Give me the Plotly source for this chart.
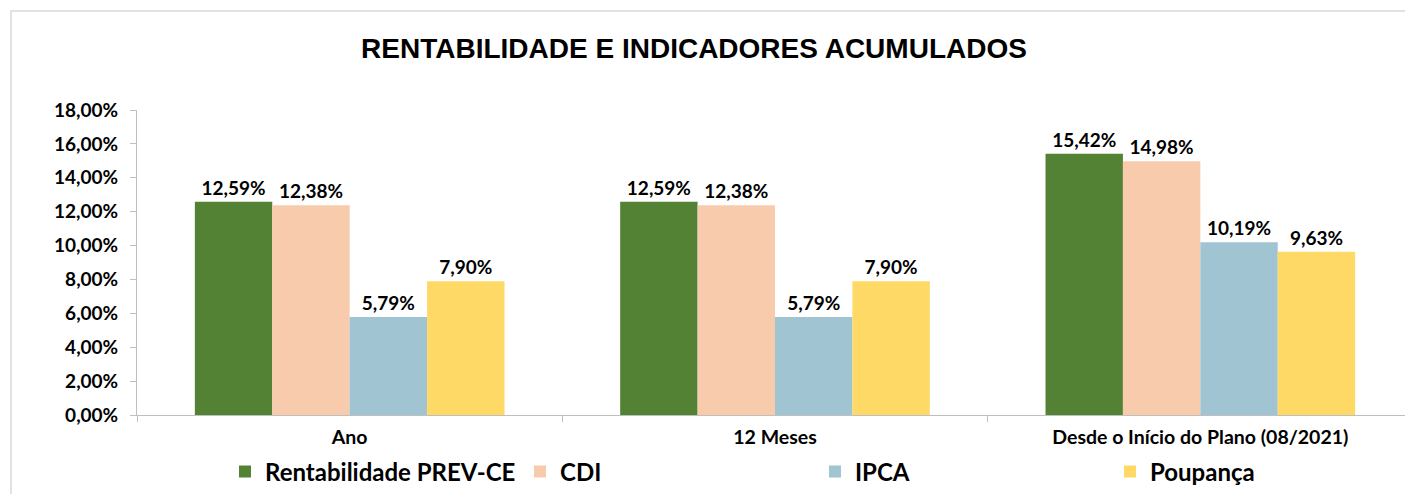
import plotly.graph_objects as go

categories = ["Ano", "12 Meses", "Desde o Início do Plano (08/2021)"]
series_names = ["Rentabilidade PREV-CE", "CDI", "IPCA", "Poupança"]
rent_prev_ce = [12.59, 12.59, 15.42]
cdi = [12.38, 12.38, 14.98]
ipca = [5.79, 5.79, 10.19]
poupanca = [7.90, 7.90, 9.63]
y_ticks = [0, 2, 4, 6, 8, 10, 12, 14, 16, 18]
y_tick_labels = [f"{v:.2f}%".replace(".", ",") for v in y_ticks]

colors = ["#548235", "#F8CBAD", "#A0C4D2", "#FFD966"]
values = [rent_prev_ce, cdi, ipca, poupanca]

LBL_FONT = "Lato, Carlito, Calibri, sans-serif"

# page body has an 8px margin, so figure coords = screen coords - 8
W, H = 1405, 486

fig = go.Figure()
for name, vals, col in zip(series_names, values, colors):
    fig.add_trace(go.Bar(
        x=categories, y=vals, name=name,
        marker=dict(color=col, line=dict(width=0)),
        texttemplate="%{y:.2f}%", textposition="outside",
        textfont=dict(family=LBL_FONT, size=19, color="#000000", weight="bold"),
        cliponaxis=False,
    ))

fig.update_layout(
    width=W, height=H,
    margin=dict(l=129, r=0, t=102, b=79, autoexpand=False),
    paper_bgcolor="white", plot_bgcolor="white",
    separators=",.",
    barmode="group", bargap=0.272, bargroupgap=0,
    title=dict(text="<b>RENTABILIDADE E INDICADORES ACUMULADOS</b>",
               font=dict(family="Liberation Sans, Arial", size=28, color="#000000"),
               x=686 / W, xanchor="center", xref="container",
               y=1 - 40 / H, yanchor="middle"),
    xaxis=dict(showline=True, linecolor="#BFBFBF", linewidth=1,
               ticks="outside", tickson="boundaries", ticklen=6, tickcolor="#BFBFBF",
               ticklabelstandoff=5,
               tickfont=dict(family=LBL_FONT, size=19.5, color="#000000", weight="bold"),
               showgrid=False, automargin=False),
    yaxis=dict(range=[0, 18], tickvals=y_ticks, ticktext=y_tick_labels,
               showline=True, linecolor="#BFBFBF", linewidth=1,
               ticks="outside", ticklen=6, tickcolor="#BFBFBF", ticklabelstandoff=8,
               tickfont=dict(family=LBL_FONT, size=19, color="#000000", weight="bold"),
               showgrid=False, zeroline=False, automargin=False),
    legend=dict(orientation="h", x=(225 - 137) / 1276, xanchor="left",
                yref="container", y=1 - 464 / H, yanchor="middle",
                font=dict(family=LBL_FONT, size=24, color="#000000", weight="bold"),
                entrywidth=250, entrywidthmode="pixels", itemwidth=30,
                bgcolor="rgba(0,0,0,0)"),
    showlegend=True,
)

fig.add_shape(type="rect", xref="paper", yref="paper",
              x0=(11 - 137) / 1276, x1=1.2, y0=-0.5, y1=(415 - 11) / 305,
              line=dict(color="#D9D9D9", width=1.5), fillcolor="rgba(0,0,0,0)", layer="below")

fig.write_html("out.html")
